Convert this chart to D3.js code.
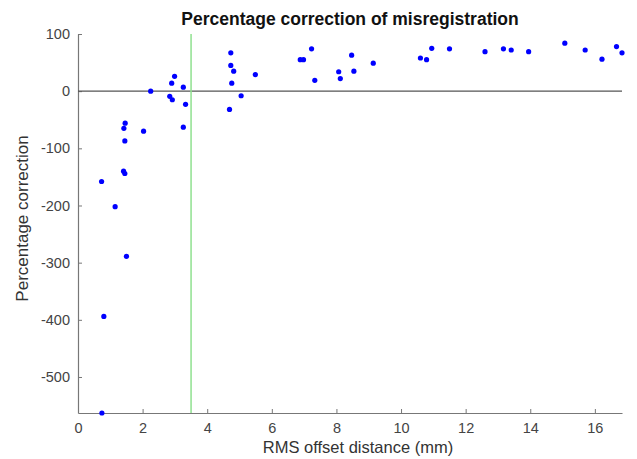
<!DOCTYPE html>
<html>
<head>
<meta charset="utf-8">
<script src="https://cdn.jsdelivr.net/npm/d3@7"></script>
<style>
  body { margin: 0; background: #fff; }
  svg { display: block; font-family: "Liberation Sans", Arial, sans-serif; }
</style>
</head>
<body>
<div id="chart"></div>
<script>
// RMS offset distance (mm)
const offsetMm = [
  0.73, 1.15, 1.46, 1.42, 1.45, 1.41, 1.45, 2.03, 2.25, 2.84, 2.92, 2.90, 2.99,
  3.26, 3.33, 3.26, 4.73, 4.73, 4.82, 4.76, 5.05, 4.69, 5.49,
  1.50, 0.80, 0.74,
  6.88, 6.98, 7.23, 7.33, 8.07, 8.12, 8.47, 8.54, 9.14, 10.6, 10.79, 10.95, 11.5,
  12.6, 13.17, 13.41, 13.95, 15.07, 15.7, 16.22, 16.67, 16.84
];
// percentage correction
const correction = [
  -158, -202, -56, -65, -87, -140, -144, -70, 0, -9, -15, 14, 26,
  7, -23, -63, 67, 45, 35, 14, -8, -32, 29,
  -289, -394, -563,
  55, 55, 74, 19, 34, 22, 63, 35, 49, 58, 55, 75, 74,
  69, 74, 72, 69, 84, 72, 56, 78, 67
];
const xTicks = [0, 2, 4, 6, 8, 10, 12, 14, 16];
const yTicks = [-500, -400, -300, -200, -100, 0, 100];
const threshold = 3.5;

const width = 637;
const height = 459;
const margin = { top: 34, right: 15, bottom: 46, left: 78 };

const data = offsetMm.map((x, i) => ({ x: x, y: correction[i] }));

const xScale = d3
  .scaleLinear()
  .domain([0, d3.max(offsetMm)])
  .range([margin.left, width - margin.right]);
const yScale = d3
  .scaleLinear()
  .domain([d3.min(correction), 100])
  .range([height - margin.bottom, margin.top]);

const svg = d3
  .select("#chart")
  .append("svg")
  .attr("width", width)
  .attr("height", height);

// MATLAB-style axes: ticks pointing inward, no box, plain hyphen minus
const plain = (d) => String(d);
const xAxis = svg
  .append("g")
  .attr("transform", `translate(0, ${height - margin.bottom})`)
  .call(d3.axisBottom(xScale).tickValues(xTicks).tickFormat(plain)
    .tickSize(-4).tickPadding(10).tickSizeOuter(0));
const yAxis = svg
  .append("g")
  .attr("transform", `translate(${margin.left}, 0)`)
  .call(d3.axisLeft(yScale).tickValues(yTicks).tickFormat(plain)
    .tickSize(-4).tickPadding(8).tickSizeOuter(0));

[xAxis, yAxis].forEach((ax) => {
  ax.select(".domain").attr("stroke", "#777").attr("stroke-width", 1.2);
  ax.selectAll(".tick line").attr("stroke", "#777");
  ax.selectAll(".tick text")
    .attr("fill", "#444")
    .attr("font-size", 14.5)
    .attr("font-family", "Liberation Sans, Arial, sans-serif");
});

// zero line
svg
  .append("line")
  .attr("x1", xScale.range()[0])
  .attr("x2", xScale.range()[1])
  .attr("y1", yScale(0))
  .attr("y2", yScale(0))
  .attr("stroke", "#555")
  .attr("stroke-width", 1.2);

// threshold line
svg
  .append("line")
  .attr("x1", xScale(threshold))
  .attr("x2", xScale(threshold))
  .attr("y1", yScale.range()[1])
  .attr("y2", yScale.range()[0])
  .attr("stroke", "#8fe08f")
  .attr("stroke-width", 1.5);

svg
  .append("g")
  .selectAll("circle")
  .data(data)
  .enter()
  .append("circle")
  .attr("cx", (d) => xScale(d.x))
  .attr("cy", (d) => yScale(d.y))
  .attr("r", 2.6)
  .attr("fill", "#0000ff");

svg
  .append("text")
  .attr("x", (margin.left + width - margin.right) / 2)
  .attr("y", 25)
  .attr("text-anchor", "middle")
  .attr("font-size", 17.5)
  .attr("font-weight", "bold")
  .attr("fill", "#111")
  .text("Percentage correction of misregistration");

svg
  .append("text")
  .attr("x", (margin.left + width - margin.right) / 2 + 8)
  .attr("y", 453)
  .attr("text-anchor", "middle")
  .attr("font-size", 16.5)
  .attr("fill", "#333")
  .text("RMS offset distance (mm)");

svg
  .append("text")
  .attr("transform", `translate(28, ${(125 + 312) / 2}) rotate(-90)`)
  .attr("text-anchor", "middle")
  .attr("font-size", 17)
  .attr("fill", "#333")
  .text("Percentage correction");
</script>
</body>
</html>
